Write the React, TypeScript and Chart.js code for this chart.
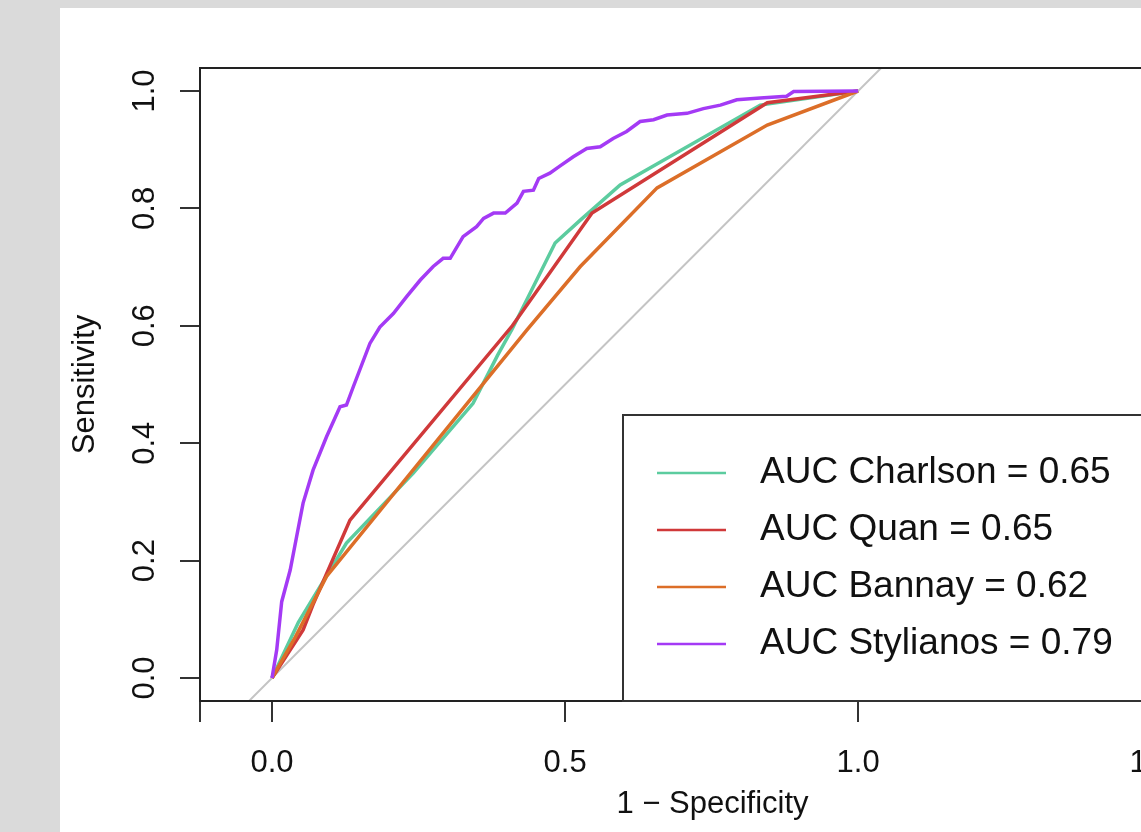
import React, { useEffect, useRef } from 'react';
import { Chart, registerables } from 'chart.js';

Chart.register(...registerables);

// ---- data ----
const seriesLabels = ['AUC Charlson = 0.65', 'AUC Quan = 0.65', 'AUC Bannay = 0.62', 'AUC Stylianos = 0.79'];
const seriesColors = ['#5ccc9f', '#d0393a', '#dc6e28', '#a43af5'];

const charlsonFpr = [0, 0.045, 0.127, 0.241, 0.343, 0.385, 0.41, 0.483, 0.526, 0.594, 0.833, 1];
const charlsonTpr = [0, 0.095, 0.23, 0.349, 0.468, 0.55, 0.595, 0.741, 0.78, 0.84, 0.976, 1];

const quanFpr = [0, 0.053, 0.07, 0.133, 0.41, 0.546, 0.845, 1];
const quanTpr = [0, 0.082, 0.125, 0.269, 0.6, 0.792, 0.98, 1];

const bannayFpr = [0, 0.04, 0.093, 0.435, 0.526, 0.657, 0.845, 1];
const bannayTpr = [0, 0.07, 0.173, 0.593, 0.701, 0.835, 0.942, 1];

const stylianosFpr = [0, 0.008, 0.0165, 0.031, 0.042, 0.053, 0.07, 0.093, 0.116, 0.127, 0.139, 0.167, 0.184, 0.207, 0.23, 0.253, 0.275, 0.292, 0.304, 0.326, 0.349, 0.361, 0.378, 0.398, 0.418, 0.429, 0.446, 0.455, 0.474, 0.491, 0.514, 0.537, 0.56, 0.582, 0.605, 0.628, 0.651, 0.674, 0.708, 0.736, 0.765, 0.793, 0.833, 0.878, 0.89, 1];
const stylianosTpr = [0, 0.048, 0.13, 0.184, 0.241, 0.298, 0.354, 0.411, 0.462, 0.465, 0.497, 0.57, 0.598, 0.621, 0.65, 0.678, 0.701, 0.715, 0.715, 0.752, 0.769, 0.783, 0.792, 0.792, 0.809, 0.829, 0.831, 0.851, 0.86, 0.872, 0.888, 0.902, 0.905, 0.919, 0.931, 0.948, 0.951, 0.959, 0.962, 0.97, 0.976, 0.985, 0.988, 0.991, 0.999, 1];

const xMin = -0.1229;
const xMax = 1.626;
const yMin = -0.0392;
const yMax = 1.0392;

const xTickValues = [xMin, 0, 0.5, 1, 1.5];
const xTickLabels = ['', '0.0', '0.5', '1.0', '1.5'];
const yTickValues = [0, 0.2, 0.4, 0.6, 0.8, 1];
const yTickLabels = ['0.0', '0.2', '0.4', '0.6', '0.8', '1.0'];

const xTitle = '1 \u2212 Specificity';
const yTitle = 'Sensitivity';

const FONT = "'Liberation Sans', Arial, Helvetica, sans-serif";
const TEXT = '#111111';

const toPoints = (xs: number[], ys: number[]) => xs.map((x, i) => ({ x, y: ys[i] }));

const boxPlugin = {
  id: 'plotBox',
  afterDatasetsDraw(chart: any) {
    const { ctx, chartArea } = chart;
    ctx.save();
    ctx.strokeStyle = '#222';
    ctx.lineWidth = 2;
    ctx.strokeRect(chartArea.left, chartArea.top, chartArea.right - chartArea.left, chartArea.bottom - chartArea.top);
    ctx.restore();
  },
};

const legendPlugin = {
  id: 'rLegend',
  afterDraw(chart: any) {
    const { ctx, chartArea } = chart;
    const boxW = 602;
    const boxH = 286;
    const left = chartArea.right - boxW;
    const top = chartArea.bottom - boxH;
    ctx.save();
    ctx.fillStyle = '#ffffff';
    ctx.fillRect(left, top, boxW, boxH);
    ctx.strokeStyle = '#333';
    ctx.lineWidth = 2;
    ctx.strokeRect(left, top, boxW, boxH);
    ctx.font = `37px ${FONT}`;
    ctx.textBaseline = 'middle';
    ctx.textAlign = 'left';
    const items = chart.data.datasets.filter((d: any) => !d.isReference);
    items.forEach((d: any, i: number) => {
      const y = top + 58 + i * 57;
      ctx.strokeStyle = d.borderColor;
      ctx.lineWidth = 2.5;
      ctx.beginPath();
      ctx.moveTo(left + 34, y);
      ctx.lineTo(left + 103, y);
      ctx.stroke();
      ctx.fillStyle = TEXT;
      ctx.fillText(d.label, left + 137, y);
    });
    ctx.restore();
  },
};

export default function App() {
  const ref = useRef<HTMLCanvasElement | null>(null);

  useEffect(() => {
    if (!ref.current) return;
    const series = [
      [charlsonFpr, charlsonTpr],
      [quanFpr, quanTpr],
      [bannayFpr, bannayTpr],
      [stylianosFpr, stylianosTpr],
    ];
    const datasets: any[] = series.map((s, i) => ({
      label: seriesLabels[i],
      data: toPoints(s[0], s[1]),
      borderColor: seriesColors[i],
      backgroundColor: seriesColors[i],
      borderWidth: 3.5,
      pointRadius: 0,
      tension: 0,
      fill: false,
      order: 4 - i,
    }));
    datasets.push({
      label: 'reference',
      isReference: true,
      data: [{ x: yMin, y: yMin }, { x: yMax, y: yMax }],
      borderColor: '#c4c4c4',
      borderWidth: 2,
      pointRadius: 0,
      fill: false,
      order: 10,
    });

    const chart = new Chart(ref.current, {
      type: 'line',
      data: { datasets },
      options: {
        responsive: false,
        maintainAspectRatio: false,
        animation: false,
        layout: { padding: { left: 0, top: 68, right: 40, bottom: 0 } },
        plugins: { legend: { display: false }, tooltip: { enabled: false } },
        scales: {
          x: {
            type: 'linear',
            min: xMin,
            max: xMax,
            afterBuildTicks: (s: any) => {
              s.ticks = xTickValues.map((v) => ({ value: v }));
            },
            afterFit: (s: any) => {
              s.height = 131;
            },
            ticks: {
              autoSkip: false,
              maxRotation: 0,
              minRotation: 0,
              padding: 23,
              color: TEXT,
              font: { family: FONT, size: 31 },
              callback: (_v: any, i: number) => xTickLabels[i],
            },
            grid: { drawOnChartArea: false, drawTicks: true, tickLength: 21, color: '#333', lineWidth: 2 },
            border: { display: true, color: '#222', width: 2 },
            title: {
              display: true,
              text: xTitle,
              color: TEXT,
              font: { family: FONT, size: 31 },
              padding: { top: 0, bottom: 9 },
            },
          },
          y: {
            type: 'linear',
            min: yMin,
            max: yMax,
            afterBuildTicks: (s: any) => {
              s.ticks = yTickValues.map((v) => ({ value: v }));
            },
            afterFit: (s: any) => {
              s.width = 200;
            },
            ticks: {
              autoSkip: false,
              minRotation: 90,
              maxRotation: 90,
              crossAlign: 'center',
              padding: 13,
              color: TEXT,
              font: { family: FONT, size: 31 },
              callback: (_v: any, i: number) => yTickLabels[i],
            },
            grid: { drawOnChartArea: false, drawTicks: true, tickLength: 20, color: '#333', lineWidth: 2 },
            border: { display: true, color: '#222', width: 2 },
            title: {
              display: true,
              text: yTitle,
              color: TEXT,
              font: { family: FONT, size: 31 },
              padding: { top: 67, bottom: 0 },
            },
          },
        },
      } as any,
      plugins: [boxPlugin, legendPlugin],
    });
    return () => chart.destroy();
  }, []);

  return (
    <div
      style={{
        position: 'fixed',
        left: 0,
        top: 0,
        width: 1141,
        height: 832,
        overflow: 'hidden',
        background: '#dadada',
      }}
    >
      <div style={{ position: 'absolute', left: 60, top: 8, right: 0, bottom: 0, background: '#ffffff' }} />
      <canvas
        ref={ref}
        width={1265}
        height={832}
        style={{ position: 'absolute', left: 0, top: 0, width: 1265, height: 832 }}
      />
    </div>
  );
}
